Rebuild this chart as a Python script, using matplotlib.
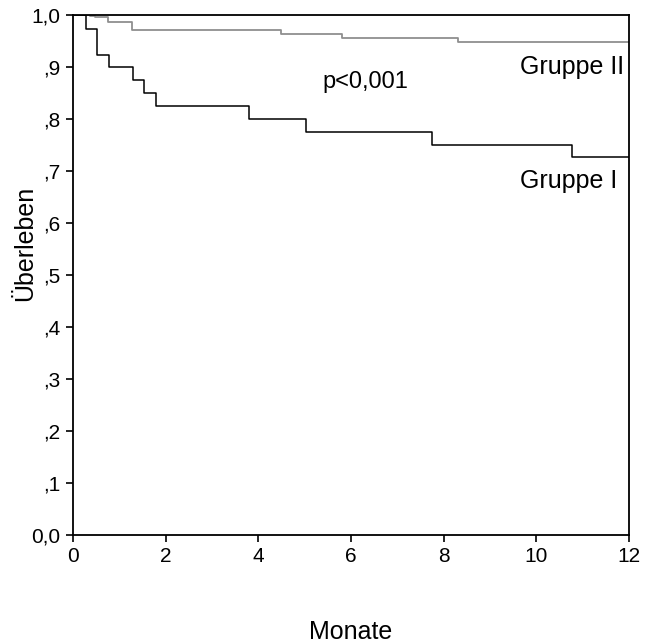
import matplotlib.pyplot as plt

plt.rcParams['font.family'] = ['Liberation Sans', 'DejaVu Sans']

# Kaplan-Meier steps (months, survival)
g1_t = [0, 0.28, 0.52, 0.78, 1.29, 1.53, 1.79, 3.81, 5.03, 7.76, 10.77, 12]
g1_s = [1.0, 0.972, 0.923, 0.900, 0.875, 0.849, 0.824, 0.800, 0.774, 0.749, 0.727, 0.727]

g2_t = [0, 0.37, 0.47, 0.76, 1.27, 4.5, 5.8, 8.32, 12]
g2_s = [1.0, 0.998, 0.9955, 0.986, 0.970, 0.9625, 0.956, 0.947, 0.947]

y_ticks = [0.0, 0.1, 0.2, 0.3, 0.4, 0.5, 0.6, 0.7, 0.8, 0.9, 1.0]
y_labels = ['0,0', ',1', ',2', ',3', ',4', ',5', ',6', ',7', ',8', ',9', '1,0']
x_ticks = [0, 2, 4, 6, 8, 10, 12]

fig = plt.figure(figsize=(6.51, 6.43), dpi=100)
ax = fig.add_axes([0.112, 0.168, 0.854, 0.809])

ax.step(g2_t, g2_s, where='post', color='#8f8f8f', lw=1.3)
ax.step(g1_t, g1_s, where='post', color='black', lw=1.1)

ax.set_xlim(0, 12)
ax.set_ylim(0, 1.0)
ax.set_xticks(x_ticks)
ax.set_yticks(y_ticks)
ax.set_yticklabels(y_labels)
ax.tick_params(direction='out', length=5, width=1.2, labelsize=15, pad=4)

for s in ax.spines.values():
    s.set_linewidth(1.3)

ax.text(5.38, 0.871, 'p<0,001', fontsize=17, va='center', ha='left')
ax.text(11.89, 0.90, 'Gruppe II', fontsize=18, va='center', ha='right')
ax.text(11.74, 0.681, 'Gruppe I', fontsize=18, va='center', ha='right')

ax.set_ylabel('Überleben', fontsize=18, va='center')
ax.yaxis.set_label_coords(-0.086, 0.56)
ax.set_xlabel('Monate', fontsize=18)
ax.xaxis.set_label_coords(0.5, -0.163)

fig.savefig('out.png', dpi=100)
